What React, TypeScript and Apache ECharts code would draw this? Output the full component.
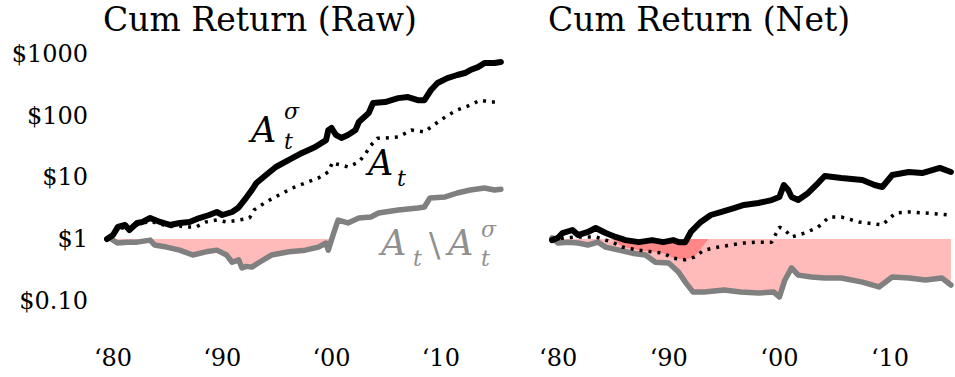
import React, { useEffect, useRef } from "react";
import * as echarts from "echarts";

// ---- Data (year, cumulative $ value) ----
const xTickYears = [1980, 1990, 2000, 2010];
const panelTitles = ["Cum Return (Raw)", "Cum Return (Net)"];

// Raw panel
const rawSigma: [number, number][] = [
  [1979.45, 1.0], [1979.8, 1.1], [1980.0, 1.16], [1980.45, 1.57], [1981.1, 1.69], [1981.5, 1.4],
  [1982.2, 1.82], [1982.7, 1.89], [1983.4, 2.19], [1984.3, 1.89], [1985.2, 1.69], [1986.1, 1.82],
  [1987.0, 1.89], [1987.9, 2.19], [1988.8, 2.45], [1989.5, 2.74], [1990.0, 2.45], [1990.9, 2.74],
  [1991.5, 3.25], [1992.2, 4.7], [1992.7, 6.2], [1993.1, 8.0], [1994.0, 10.9], [1994.9, 14.7],
  [1996.1, 19.1], [1997.3, 24.8], [1998.5, 31], [1999.5, 40], [1999.7, 58], [2000.0, 63],
  [2000.4, 48.6], [2000.9, 43.4], [2001.5, 48.6], [2002.2, 58.5], [2002.5, 78.8], [2003.4, 110],
  [2003.8, 160], [2004.9, 166], [2006.1, 192], [2007.0, 200], [2007.9, 178], [2008.5, 178],
  [2009.1, 260], [2009.7, 337], [2010.6, 405], [2011.5, 455], [2012.2, 490], [2012.7, 548],
  [2013.4, 610], [2014.0, 712], [2014.9, 712], [2015.5, 740],
];
const rawAll: [number, number][] = [
  [1979.45, 1.0], [1980.45, 1.45], [1981.1, 1.55], [1981.5, 1.35], [1982.2, 1.7], [1983.4, 1.95],
  [1984.3, 1.75], [1985.2, 1.6], [1986.1, 1.62], [1986.7, 1.57], [1987.6, 1.57], [1988.5, 1.89],
  [1989.5, 2.03], [1990.4, 1.89], [1991.5, 2.03], [1992.5, 2.19], [1992.9, 2.95], [1994.0, 3.98],
  [1995.2, 5.17], [1996.4, 6.7], [1997.6, 8.1], [1998.8, 9.75], [1999.7, 12.2], [2000.1, 17.7],
  [2000.4, 16.5], [2000.9, 15.8], [2001.5, 14.7], [2002.5, 17.7], [2003.1, 24], [2003.6, 33],
  [2004.2, 43], [2004.9, 43.4], [2006.1, 45], [2007.3, 58.5], [2008.5, 54.2], [2009.1, 65.3],
  [2010.4, 95], [2011.5, 123], [2012.7, 148], [2013.6, 178], [2014.5, 166], [2015.5, 165],
];
const rawExcl: [number, number][] = [
  [1979.45, 1.0], [1979.7, 1.04], [1980.4, 0.86], [1981.3, 0.89], [1982.2, 0.89], [1983.4, 0.96],
  [1983.8, 0.8], [1984.9, 0.74], [1986.1, 0.66], [1987.3, 0.55], [1988.5, 0.62], [1989.5, 0.66],
  [1990.4, 0.55], [1990.9, 0.42], [1991.5, 0.46], [1991.8, 0.34], [1992.2, 0.36], [1992.7, 0.35],
  [1993.4, 0.42], [1994.5, 0.55], [1996.1, 0.62], [1997.6, 0.66], [1998.8, 0.74], [1999.5, 0.86],
  [1999.7, 0.66], [2000.2, 1.25], [2000.6, 2.03], [2001.5, 1.82], [2002.5, 2.19], [2003.6, 2.27],
  [2004.3, 2.64], [2006.1, 2.95], [2007.9, 3.18], [2008.5, 3.3], [2009.0, 4.62], [2010.4, 4.8],
  [2011.5, 5.57], [2012.7, 6.22], [2014.0, 6.7], [2014.9, 6.22], [2015.5, 6.4],
];

// Net panel
const netSigma: [number, number][] = [
  [1979.45, 0.96], [1980.0, 1.05], [1980.4, 1.25], [1981.3, 1.4], [1981.8, 1.16], [1982.7, 1.3],
  [1983.4, 1.51], [1984.3, 1.25], [1985.2, 1.08], [1986.1, 0.96], [1987.3, 0.89], [1988.5, 0.96],
  [1989.5, 0.89], [1990.4, 0.96], [1990.9, 0.89], [1991.5, 0.89], [1992.0, 1.3], [1992.9, 1.89],
  [1993.8, 2.45], [1994.7, 2.74], [1995.9, 3.18], [1996.8, 3.56], [1998.1, 3.83], [1999.3, 4.28],
  [2000.0, 4.8], [2000.4, 7.5], [2000.8, 6.22], [2001.1, 4.8], [2001.7, 4.28], [2002.6, 5.57],
  [2003.5, 8.08], [2004.1, 10.5], [2005.6, 9.75], [2007.5, 9.04], [2008.6, 7.5], [2009.3, 6.96],
  [2010.2, 10.9], [2011.7, 12.2], [2012.9, 11.7], [2014.5, 14.2], [2015.5, 12.2],
];
const netAll: [number, number][] = [
  [1979.45, 0.96], [1980.6, 1.04], [1981.8, 1.08], [1983.4, 1.08], [1984.9, 0.89], [1985.8, 0.74],
  [1987.3, 0.66], [1988.5, 0.62], [1989.5, 0.59], [1990.4, 0.49], [1991.5, 0.46], [1992.3, 0.51],
  [1993.2, 0.66], [1994.5, 0.74], [1995.6, 0.8], [1996.8, 0.86], [1998.1, 0.89], [1999.3, 0.89],
  [2000.0, 1.56], [2000.5, 1.4], [2001.1, 1.08], [2002.3, 1.25], [2003.5, 1.56], [2004.5, 2.27],
  [2005.6, 2.27], [2007.2, 1.89], [2009.3, 1.69], [2010.5, 2.64], [2011.7, 2.74], [2013.2, 2.64],
  [2015.5, 2.45],
];
const netExcl: [number, number][] = [
  [1979.45, 1.04], [1980.0, 0.86], [1980.9, 0.89], [1981.8, 0.86], [1982.7, 0.8], [1983.6, 0.89],
  [1984.3, 0.74], [1985.5, 0.66], [1986.7, 0.59], [1987.9, 0.55], [1988.8, 0.42], [1990.0, 0.41],
  [1990.9, 0.29], [1991.5, 0.2], [1992.2, 0.138], [1993.2, 0.138], [1995.0, 0.149], [1996.5, 0.138],
  [1998.1, 0.133], [1999.5, 0.138], [2000.0, 0.115], [2000.5, 0.217], [2001.1, 0.34], [2001.7, 0.26],
  [2002.9, 0.242], [2004.1, 0.233], [2005.6, 0.233], [2007.5, 0.2], [2009.0, 0.167], [2010.2, 0.242],
  [2011.7, 0.233], [2013.2, 0.216], [2014.7, 0.233], [2015.5, 0.18],
];
// darker overlap region in the Net panel (between $1 and the A_t line)
const netOverlap: [number, number][] = [
  [1984.9, 1.0], [1985.8, 0.74], [1987.3, 0.66], [1988.5, 0.62], [1989.5, 0.59], [1990.4, 0.49],
  [1991.5, 0.46], [1992.3, 0.51], [1993.6, 1.0],
];

const FONT = "'DejaVu Serif', serif";
const FILL = "rgba(255,0,0,0.27)";
const GRAY = "#808080";
const LABEL_GRAY = "#909090";

const clipBelowOne = (d: [number, number][]) => d.map(([x, v]) => [x, Math.min(v, 1)]);

function yLabel(v: number): string {
  const lg = Math.log10(v);
  if (Math.abs(lg - Math.round(lg)) > 1e-6) return "";
  const r = Math.pow(10, Math.round(lg));
  return r < 1 ? "$" + r.toFixed(2) : "$" + Math.round(r);
}

function panelSeries(idx: number, sigma: [number, number][], all: [number, number][], excl: [number, number][], overlap?: [number, number][]) {
  const base = { type: "line", xAxisIndex: idx, yAxisIndex: idx, showSymbol: false, symbol: "none", silent: true };
  const list: any[] = [
    {
      ...base,
      z: 1,
      data: clipBelowOne(excl),
      lineStyle: { width: 0, opacity: 0 },
      areaStyle: { color: FILL, origin: 1, opacity: 1 },
    },
  ];
  if (overlap) {
    list.push({
      ...base,
      z: 1,
      data: overlap,
      lineStyle: { width: 0, opacity: 0 },
      areaStyle: { color: FILL, origin: 1, opacity: 1 },
    });
  }
  list.push(
    { ...base, z: 2, data: excl, lineStyle: { color: GRAY, width: 5.5, join: "round", cap: "round" } },
    { ...base, z: 3, data: all, lineStyle: { color: "#000", width: 3.5, type: [3, 6], cap: "butt" } },
    { ...base, z: 4, data: sigma, lineStyle: { color: "#000", width: 6, join: "round", cap: "round" } },
  );
  return list;
}

function txt(text: string, x: number, y: number, size: number, color = "#000", italic = true) {
  return {
    type: "text",
    x,
    y,
    silent: true,
    z: 10,
    style: {
      text,
      fill: color,
      font: `${italic ? "italic " : ""}${size}px 'DejaVu Serif'`,
      align: "left",
      verticalAlign: "middle",
      textAlign: "left",
      textVerticalAlign: "middle",
    },
  };
}

export default function App() {
  const ref = useRef<HTMLDivElement>(null);
  useEffect(() => {
    document.body.style.margin = "0";
    const chart = echarts.init(ref.current!, null, { renderer: "svg" });
    const xAxisBase = {
      type: "value",
      min: 1979.45,
      max: 2015.6,
      axisLine: { show: false },
      axisTick: { show: false },
      splitLine: { show: false },
      axisLabel: {
        customValues: xTickYears,
        formatter: (v: number) => "\u2018" + String(Math.round(v) % 100).padStart(2, "0"),
        fontFamily: FONT,
        fontSize: 24,
        color: "#000",
        margin: 26,
      },
    };
    const yAxisBase = {
      type: "log",
      logBase: 10,
      min: 0.0487,
      max: 2440,
      axisLine: { show: false },
      axisTick: { show: false },
      splitLine: { show: false },
    };
    const option: any = {
      animation: false,
      backgroundColor: "#fff",
      title: panelTitles.map((t, i) => ({
        text: t,
        left: i === 0 ? 103 : 548,
        top: 3,
        padding: 0,
        textStyle: { fontFamily: FONT, fontSize: 33, fontWeight: "normal", color: "#000" },
      })),
      grid: [
        { left: 107, top: 30, width: 395, height: 290 },
        { left: 552, top: 30, width: 400, height: 290 },
      ],
      xAxis: [
        { ...xAxisBase, gridIndex: 0 },
        { ...xAxisBase, gridIndex: 1 },
      ],
      yAxis: [
        {
          ...yAxisBase,
          gridIndex: 0,
          axisLabel: {
            formatter: yLabel,
            showMinLabel: false,
            showMaxLabel: false,
            fontFamily: FONT,
            fontSize: 24,
            color: "#000",
            margin: 19,
          },
        },
        { ...yAxisBase, gridIndex: 1, axisLabel: { show: false } },
      ],
      series: [
        ...panelSeries(0, rawSigma, rawAll, rawExcl),
        ...panelSeries(1, netSigma, netAll, netExcl, netOverlap),
      ],
      graphic: [
        txt("A", 251, 130, 35),
        txt("\u03c3", 284, 111, 22),
        txt("t", 284, 141, 22),
        txt("A", 368, 163, 35),
        txt("t", 397, 178, 22),
        txt("A", 381, 243, 35, LABEL_GRAY),
        txt("t", 413, 258, 22, LABEL_GRAY),
        txt("\\", 429, 245, 34, LABEL_GRAY, false),
        txt("A", 448, 243, 35, LABEL_GRAY),
        txt("\u03c3", 481, 229, 22, LABEL_GRAY),
        txt("t", 481, 258, 22, LABEL_GRAY),
      ],
    };
    chart.setOption(option);
    return () => chart.dispose();
  }, []);
  return <div ref={ref} style={{ width: 955, height: 377 }} />;
}
